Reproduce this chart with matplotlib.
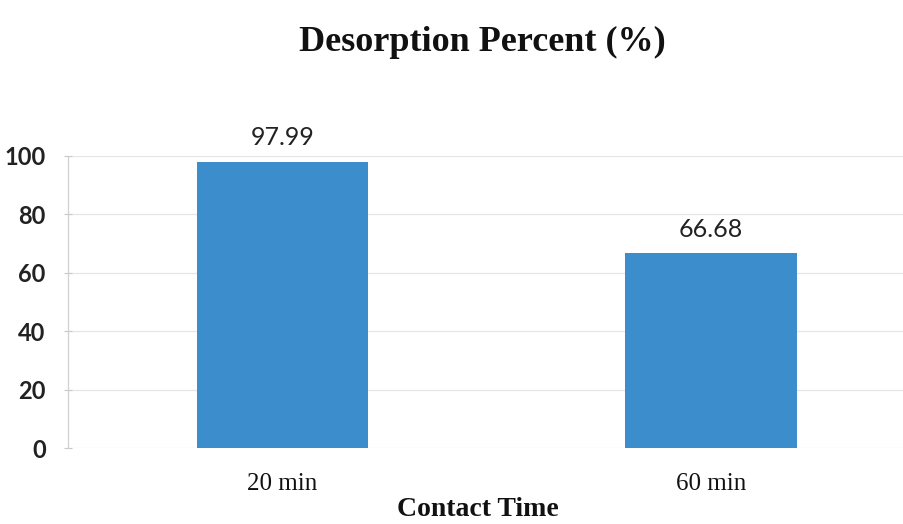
import matplotlib
matplotlib.use("Agg")
import matplotlib.pyplot as plt

categories = ["20 min", "60 min"]
values = [97.99, 66.68]
value_labels = ["97.99", "66.68"]
yticks = [0, 20, 40, 60, 80, 100]

W, H = 904, 524
fig = plt.figure(figsize=(W / 100, H / 100), dpi=100)
ax = fig.add_axes([68 / W, 1 - 448 / H, 1 - 68 / W, 292 / H])

x = list(range(len(categories)))
ax.bar(x, values, width=0.4, color="#3b8dcb", zorder=3)
ax.set_xlim(-0.5, 1.45)
ax.set_ylim(0, 100)

ax.set_yticks(yticks)
ax.set_yticklabels([str(t) for t in yticks], fontfamily="Lato", fontweight="bold",
                   fontsize=17, color="#222222")
ax.grid(axis="y", color="#e6e6e6", lw=0.9, zorder=0)
ax.set_axisbelow(True)
for s in ["top", "right", "bottom"]:
    ax.spines[s].set_visible(False)
ax.spines["left"].set_color("#d0d0d0")
ax.spines["left"].set_linewidth(0.9)
ax.tick_params(axis="y", direction="inout", length=6, color="#c8c8c8", pad=13)
ax.tick_params(axis="x", length=0, pad=18)
ax.set_xticks(x)
ax.set_xticklabels(categories, fontfamily="Liberation Serif", fontsize=18, color="#111111")

for xi, v, lab in zip(x, values, value_labels):
    ax.annotate(lab, (xi, v), xytext=(0, 9), textcoords="offset points",
                ha="center", va="bottom", fontfamily="Lato", fontsize=18, color="#222222")

fig.text(482 / W, 1 - 42 / H, "Desorption Percent (%)", ha="center", va="center",
         fontfamily="Liberation Serif", fontweight="bold", fontsize=26, color="#111111")
fig.text(478 / W, 1 - 510 / H, "Contact Time", ha="center", va="center",
         fontfamily="Liberation Serif", fontweight="bold", fontsize=20, color="#111111")

fig.savefig("out.png", dpi=100)
